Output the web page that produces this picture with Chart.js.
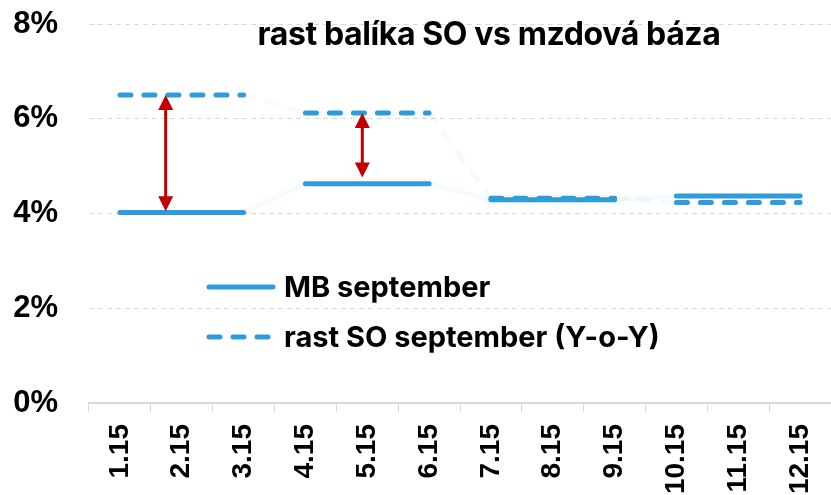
<!DOCTYPE html>
<html>
<head>
<meta charset="utf-8">
<script src="https://cdn.jsdelivr.net/npm/chart.js@4.4.0/dist/chart.umd.min.js"></script>
<style>
  html, body { margin: 0; padding: 0; background: #fff; }
  #wrap { width: 831px; height: 495px; }
</style>
</head>
<body>
<div id="wrap"><canvas id="mzdyChart"></canvas></div>
<script>
// Mesiace (kategórie)
const mesiace = ["1.15", "2.15", "3.15", "4.15", "5.15", "6.15", "7.15", "8.15", "9.15", "10.15", "11.15", "12.15"];

// MB september (%)
const mbSeptember = [4.02, 4.02, 4.02, 4.63, 4.63, 4.63, 4.29, 4.29, 4.29, 4.37, 4.37, 4.37];

// rast SO september (Y-o-Y) (%)
const rastSO = [6.5, 6.5, 6.5, 6.12, 6.12, 6.12, 4.32, 4.32, 4.32, 4.23, 4.23, 4.23];

// Hodnoty osi Y
const yTicks = [0, 2, 4, 6, 8];

// Šípky rozdielu (pozícia v kategóriách, od / do v %)
const sipkyX = [0.74, 3.92];
const sipkyOd = [4.05, 4.76];
const sipkyDo = [6.5, 6.12];

const MODRA = "#2E9BDC";
const SLABA = "rgba(46, 155, 220, 0.05)";
const CERVENA = "#C00000";
const TITUL = "rast balíka SO vs mzdová báza";

// slabá spojnica medzi štvrťrokmi
const spojnica = (ctx) =>
  ctx.p0.parsed.y !== ctx.p1.parsed.y ? SLABA : undefined;

const sipkyPlugin = {
  id: "sipky",
  afterDatasetsDraw(chart) {
    const { ctx, scales } = chart;
    ctx.save();
    ctx.strokeStyle = CERVENA;
    ctx.fillStyle = CERVENA;
    ctx.lineWidth = 3;
    sipkyX.forEach((v, i) => {
      const x = scales.x.getPixelForValue(v);
      const y1 = scales.y.getPixelForValue(sipkyOd[i]);
      const y2 = scales.y.getPixelForValue(sipkyDo[i]);
      const hl = 15, hw = 7.5;
      ctx.beginPath();
      ctx.moveTo(x, y1 - hl + 2);
      ctx.lineTo(x, y2 + hl - 2);
      ctx.stroke();
      // hrot hore
      ctx.beginPath();
      ctx.moveTo(x, y2);
      ctx.lineTo(x - hw, y2 + hl);
      ctx.lineTo(x + hw, y2 + hl);
      ctx.closePath();
      ctx.fill();
      // hrot dole
      ctx.beginPath();
      ctx.moveTo(x, y1);
      ctx.lineTo(x - hw, y1 - hl);
      ctx.lineTo(x + hw, y1 - hl);
      ctx.closePath();
      ctx.fill();
    });
    ctx.restore();
  },
  afterDraw(chart) {
    const { ctx } = chart;
    ctx.save();
    ctx.fillStyle = "#000";
    ctx.textBaseline = "alphabetic";
    // titulok
    ctx.font = "bold 32px Inter";
    ctx.letterSpacing = "-0.4px";
    ctx.textAlign = "center";
    ctx.fillText(TITUL, 489, 45);

    // legenda
    ctx.textAlign = "left";
    ctx.font = "bold 29px Inter";
    ctx.letterSpacing = "0px";
    const riadky = [287, 337];
    chart.data.datasets.forEach((ds, i) => {
      const y = riadky[i];
      ctx.strokeStyle = ds.borderColor;
      ctx.lineWidth = 5;
      ctx.lineCap = "round";
      ctx.setLineDash(ds.borderDash || []);
      ctx.beginPath();
      ctx.moveTo(209, y);
      ctx.lineTo(273, y);
      ctx.stroke();
      ctx.setLineDash([]);
      ctx.fillText(ds.label, 284, y + 10);
    });
    ctx.restore();
  }
};

new Chart(document.getElementById("mzdyChart"), {
  type: "line",
  data: {
    labels: mesiace,
    datasets: [
      {
        label: "MB september",
        data: mbSeptember,
        borderColor: MODRA,
        borderWidth: 5,
        borderCapStyle: "round",
        pointRadius: 0,
        tension: 0,
        segment: { borderColor: spojnica },
      },
      {
        label: "rast SO september (Y-o-Y)",
        data: rastSO,
        borderColor: MODRA,
        borderWidth: 5,
        borderDash: [11, 13],
        borderCapStyle: "round",
        pointRadius: 0,
        tension: 0,
        segment: { borderColor: spojnica },
      },
    ],
  },
  options: {
    responsive: true,
    maintainAspectRatio: false,
    animation: false,
    layout: { padding: { left: 0, right: 0, top: 0, bottom: 0 } },
    plugins: {
      legend: { display: false },
      tooltip: { enabled: false },
    },
    scales: {
      x: {
        offset: true,
        afterFit: (axis) => {
          axis.height = 92;
          axis.paddingLeft = 0;
          axis.paddingRight = 0;
        },
        grid: {
          offset: true,
          drawOnChartArea: false,
          drawTicks: true,
          tickLength: 9,
          color: "#d9d9d9",
        },
        border: { color: "#d9d9d9", width: 2 },
        ticks: {
          maxRotation: 90,
          minRotation: 90,
          padding: 12,
          color: "#000",
          font: { family: "Liberation Sans", weight: "bold", size: 28 },
        },
      },
      y: {
        min: 0,
        max: 8,
        afterFit: (axis) => { axis.width = 89; axis.paddingTop = 24; },
        afterBuildTicks: (axis) => {
          axis.ticks = yTicks.map((v) => ({ value: v }));
        },
        grid: {
          drawTicks: false,
          color: (c) => (c.tick.value === 0 ? "rgba(0,0,0,0)" : "#d9d9d9"),
        },
        border: { display: false, dash: [5, 4] },
        ticks: {
          padding: 31,
          color: "#000",
          font: { family: "Liberation Sans", weight: "bold", size: 31 },
          callback: (v) => v + "%",
        },
      },
    },
  },
  plugins: [sipkyPlugin],
});
</script>
</body>
</html>
